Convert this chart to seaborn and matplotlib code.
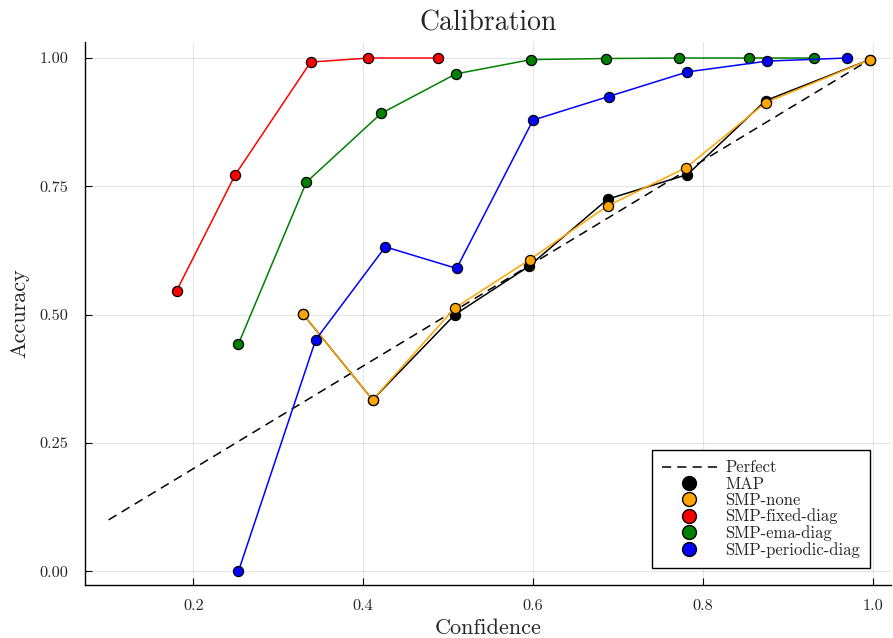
import matplotlib
matplotlib.use("Agg")
import numpy as np
import pandas as pd
import seaborn as sns
import matplotlib.pyplot as plt
from matplotlib.lines import Line2D

# Datos
perfect_x = [0.1, 1.0]
perfect_y = [0.1, 1.0]

map_conf = [0.329, 0.411, 0.508, 0.595, 0.688, 0.782, 0.874, 0.997]
map_acc = [0.501, 0.334, 0.500, 0.594, 0.725, 0.773, 0.917, 0.997]

none_conf = [0.329, 0.411, 0.508, 0.596, 0.688, 0.780, 0.874, 0.997]
none_acc = [0.501, 0.334, 0.513, 0.607, 0.712, 0.786, 0.913, 0.997]

fixed_conf = [0.180, 0.249, 0.338, 0.406, 0.488]
fixed_acc = [0.546, 0.772, 0.992, 1.000, 1.000]

ema_conf = [0.253, 0.333, 0.421, 0.509, 0.598, 0.686, 0.772, 0.855, 0.931]
ema_acc = [0.443, 0.758, 0.892, 0.969, 0.997, 0.999, 1.000, 1.000, 1.000]

periodic_conf = [0.253, 0.344, 0.426, 0.510, 0.600, 0.689, 0.782, 0.876, 0.970]
periodic_acc = [0.000, 0.451, 0.632, 0.590, 0.879, 0.925, 0.973, 0.994, 1.000]

series = [
    ("MAP", map_conf, map_acc, "black"),
    ("SMP-none", none_conf, none_acc, "orange"),
    ("SMP-fixed-diag", fixed_conf, fixed_acc, "red"),
    ("SMP-ema-diag", ema_conf, ema_acc, "green"),
    ("SMP-periodic-diag", periodic_conf, periodic_acc, "blue"),
]

sns.set_theme(style="white")
plt.rcParams["font.family"] = ["cmr10", "DejaVu Serif"]
plt.rcParams["mathtext.fontset"] = "cm"
plt.rcParams["axes.formatter.use_mathtext"] = True

fig = plt.figure(figsize=(8.93, 6.38), dpi=100)
ax = fig.add_axes([0.095, 0.083, 0.903, 0.851])

ax.plot(perfect_x, perfect_y, color="black", linestyle=(0, (6, 4)), linewidth=1.1, zorder=2)

for nombre, xs, ys, color in series:
    df = pd.DataFrame({"Confidence": xs, "Accuracy": ys})
    sns.lineplot(data=df, x="Confidence", y="Accuracy", ax=ax, color=color,
                 linewidth=1.1, marker="o", markersize=7.3,
                 markeredgecolor="black", markeredgewidth=0.9,
                 sort=False, estimator=None, zorder=3)

ax.set_xlim(0.072, 1.022)
ax.set_ylim(-0.027, 1.031)
ax.set_xticks([0.2, 0.4, 0.6, 0.8, 1.0])
ax.set_xticklabels(["0.2", "0.4", "0.6", "0.8", "1.0"])
ax.set_yticks([0.0, 0.25, 0.5, 0.75, 1.0])
ax.set_yticklabels(["0.00", "0.25", "0.50", "0.75", "1.00"])
ax.grid(True, color="black", alpha=0.1, linewidth=0.8)
ax.set_axisbelow(True)

for lado in ["top", "right"]:
    ax.spines[lado].set_visible(False)
for lado in ["left", "bottom"]:
    ax.spines[lado].set_color("black")
    ax.spines[lado].set_linewidth(1.0)

ax.tick_params(axis="both", direction="in", length=5, width=0.8,
               color="black", labelsize=11.7, left=True, bottom=True)
ax.tick_params(axis="y", pad=12)
ax.tick_params(axis="x", pad=10)

ax.set_xlabel("Confidence", fontsize=16, labelpad=4)
ax.set_ylabel("Accuracy", fontsize=16, labelpad=7)
ax.set_title("Calibration", fontsize=20, pad=8)

handles = [Line2D([0], [0], color="black", linestyle=(0, (6, 4)), linewidth=1.1)]
for nombre, xs, ys, color in series:
    handles.append(Line2D([0], [0], color=color, linestyle="none", marker="o",
                          markersize=10, markeredgecolor="black", markeredgewidth=1.0))
labels = ["Perfect"] + [s[0] for s in series]
leg = ax.legend(handles, labels, loc="lower right", bbox_to_anchor=(0.9736, 0.032),
                fontsize=12, frameon=True, fancybox=False, edgecolor="black",
                handlelength=3.3, handletextpad=0.5, labelspacing=0.05,
                borderpad=0.6, borderaxespad=0, framealpha=1)
leg.get_frame().set_linewidth(1.0)

plt.savefig("out.png", dpi=100)
